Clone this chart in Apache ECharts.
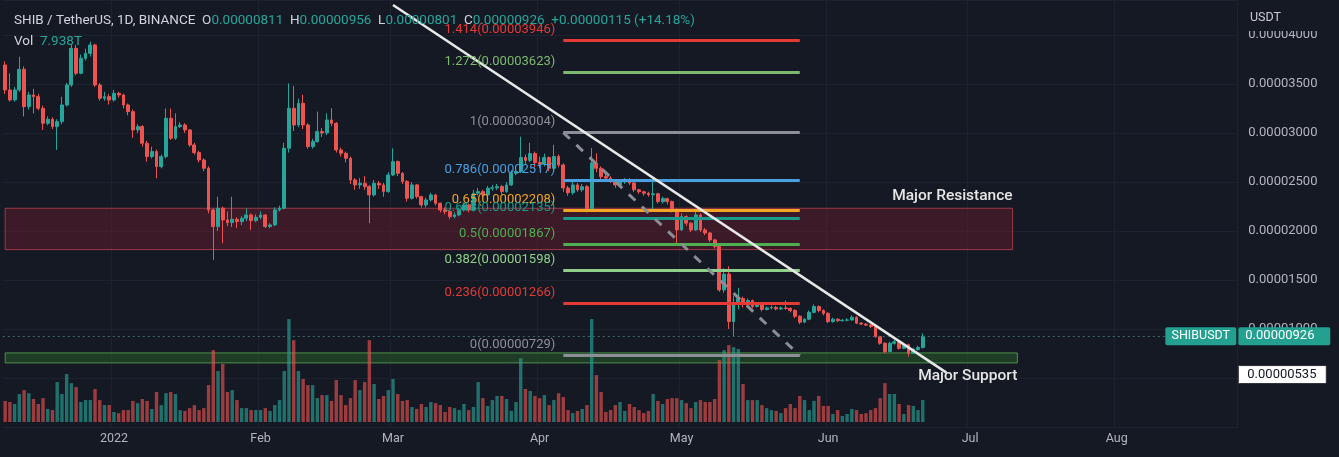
<!DOCTYPE html>
<html><head><meta charset="utf-8">
<script src="https://cdn.jsdelivr.net/npm/echarts@6/dist/echarts.min.js"></script>
<style>html,body{margin:0;padding:0;background:#151924;}#c{width:1339px;height:457px;}</style>
</head><body><div id="c"></div>
<script>
// ---- DATA (prices in units of 1e-8 USDT, volume in T) ----
const startDate = '2021-12-09';
const totalDays = 261; // Dec 9 2021 .. Aug 26 2022 (axis extent)
const open = [3694,3439,3337,3439,3650,3269,3388,3371,3252,3099,3140,3065,3116,3286,3490,3864,3609,3762,3813,3898,3490,3354,3371,3337,3405,3388,3286,3218,3031,3065,2895,2759,2810,2657,2759,3150,2946,3065,3082,3031,2878,2800,2725,2640,2215,2045,2232,2113,2086,2120,2096,2130,2164,2106,2140,2164,2045,2062,2215,2232,2844,3252,3082,3303,3082,2861,2912,3014,3000,3133,3099,2827,2793,2742,2521,2470,2487,2453,2368,2487,2470,2402,2572,2708,2589,2504,2334,2470,2351,2266,2317,2368,2283,2215,2198,2147,2164,2215,2266,2215,2385,2402,2368,2436,2440,2453,2402,2470,2589,2606,2750,2720,2790,2700,2680,2750,2640,2760,2674,2439,2390,2470,2420,2452,2215,2694,2640,2555,2540,2520,2470,2500,2520,2490,2420,2400,2385,2370,2380,2300,2330,2300,2215,2011,2147,2080,2011,2164,2011,1980,1909,1841,1399,1560,1076,1263,1310,1250,1290,1230,1250,1200,1215,1220,1205,1215,1210,1190,1130,1070,1100,1170,1230,1190,1160,1076,1100,1085,1090,1092,1120,1060,1050,1040,1025,922,855,770,854,870,803,840,752,790,811];
const close = [3439,3337,3439,3650,3269,3388,3371,3252,3099,3140,3065,3116,3286,3490,3864,3609,3762,3813,3898,3490,3354,3371,3337,3405,3388,3286,3218,3031,3065,2895,2759,2810,2657,2759,3150,2946,3065,3082,3031,2878,2800,2725,2640,2215,2045,2232,2113,2086,2120,2096,2130,2164,2106,2140,2164,2045,2062,2215,2232,2844,3252,3082,3303,3082,2861,2912,3014,3000,3133,3099,2827,2793,2742,2521,2470,2487,2453,2368,2487,2470,2402,2572,2708,2589,2504,2334,2470,2351,2266,2317,2368,2283,2215,2198,2147,2164,2215,2266,2215,2385,2402,2368,2436,2440,2453,2402,2470,2589,2606,2750,2720,2790,2700,2680,2750,2640,2760,2674,2439,2390,2470,2420,2452,2215,2694,2640,2555,2540,2520,2470,2500,2520,2490,2420,2400,2385,2370,2380,2300,2330,2300,2215,2011,2147,2080,2011,2164,2011,1980,1909,1841,1399,1560,1076,1263,1310,1250,1290,1230,1250,1200,1215,1220,1205,1215,1210,1190,1130,1070,1100,1170,1230,1190,1160,1076,1100,1085,1090,1092,1120,1060,1050,1040,1025,922,855,770,854,870,803,840,752,790,811,926];
const high = [3730,3609,3470,3779,3680,3420,3450,3400,3280,3170,3160,3140,3370,3510,3900,3900,3800,3860,3932,3910,3510,3420,3400,3440,3420,3400,3300,3240,3090,3080,2920,2860,2830,2780,3250,3250,3200,3110,3100,3040,2900,2820,2740,2660,2230,2351,2250,2200,2350,2140,2150,2230,2180,2170,2200,2170,2080,2240,2260,2900,3506,3480,3350,3390,3100,2940,3218,3050,3200,3252,3110,2850,2810,2760,2540,2540,2560,2470,2520,2510,2490,2600,2843,2720,2600,2520,2500,2480,2360,2340,2390,2380,2290,2240,2210,2190,2240,2290,2280,2420,2440,2420,2460,2470,2480,2470,2500,2620,2640,2962,2780,2900,2810,2760,2790,2760,2880,2780,2690,2460,2500,2490,2480,2470,2847,2793,2660,2580,2560,2530,2530,2540,2540,2500,2430,2410,2400,2520,2390,2350,2340,2310,2230,2180,2160,2090,2215,2180,2030,1990,1920,1860,1620,1640,1340,1420,1330,1310,1300,1270,1260,1230,1240,1235,1230,1290,1220,1200,1140,1110,1190,1250,1240,1200,1170,1115,1110,1100,1110,1140,1130,1070,1060,1050,1035,930,865,870,890,880,860,850,810,830,956];
const low = [3400,3320,3320,3420,3170,3240,3200,3230,3031,3080,3040,2827,3090,3270,3470,3590,3600,3740,3780,3470,3330,3330,3290,3320,3360,3250,3180,2950,3000,2860,2708,2740,2538,2640,2740,2930,2930,3050,3000,2860,2780,2700,2610,2180,1705,2000,1875,2050,2040,2030,2060,2100,2011,2090,2120,2030,2030,2050,2200,2220,2800,3020,3060,3040,2840,2840,2900,2960,2980,3070,2800,2760,2700,2480,2420,2430,2420,2079,2350,2430,2350,2390,2560,2560,2480,2300,2320,2330,2240,2240,2300,2260,2190,2170,2120,2130,2150,2200,2190,2200,2360,2340,2350,2410,2420,2380,2390,2460,2570,2590,2680,2700,2650,2640,2660,2610,2620,2650,2400,2360,2370,2400,2400,2190,2200,2600,2530,2510,2490,2440,2460,2480,2470,2400,2380,2360,2350,2215,2280,2280,2270,2190,1875,2000,2050,1990,2000,1990,1960,1890,1820,1380,1370,1000,920,1200,1220,1230,1210,1220,1180,1190,1200,1190,1195,1195,1170,1110,1050,1060,1090,1160,1170,1140,1060,1065,1070,1075,1080,1085,1050,1040,1030,1010,910,840,752,765,840,790,795,720,745,780,801];
const volume = [7.6,7.2,6.5,10.1,11.5,10.4,8.3,6.5,8.6,4.7,4.3,14.4,10.1,17.3,14.0,12.6,7.2,7.9,7.9,11.9,7.9,6.1,6.1,3.6,3.2,4.3,4.3,7.6,6.8,8.3,7.6,4.7,10.8,6.1,10.4,10.8,10.1,4.3,4.0,5.0,6.1,4.3,5.0,13.3,25.9,18.4,20.9,10.8,11.5,7.9,5.0,5.0,4.3,4.3,4.3,5.0,4.0,6.1,7.9,18.4,37.1,29.5,18.4,15.5,13.3,13.3,8.6,9.7,9.7,7.6,15.1,9.7,6.1,8.6,15.1,11.5,14.4,29.5,13.7,8.3,9.4,11.5,15.5,10.1,7.6,7.9,5.4,4.7,6.5,5.4,7.2,6.8,6.1,3.6,5.4,5.0,4.3,6.5,4.3,5.4,14.4,8.6,5.8,7.9,9.4,9.4,8.3,4.0,7.2,23.0,11.9,11.2,9.4,8.6,9.7,6.1,7.9,10.4,9.0,4.3,3.2,4.0,4.7,6.1,37.1,16.9,10.8,3.6,4.3,6.1,7.2,4.0,6.5,5.4,4.3,3.2,4.0,10.1,7.6,6.5,8.3,8.6,8.6,7.9,6.8,5.0,7.2,7.9,7.2,7.2,8.3,22.3,25.9,27.7,27.0,26.3,13.7,7.9,7.9,7.9,6.1,5.0,4.3,4.0,3.2,5.0,6.5,5.0,9.4,7.9,4.3,7.6,9.4,5.8,5.8,2.9,4.3,2.2,2.9,4.7,4.3,2.9,3.2,4.3,5.0,8.6,14.0,10.1,10.1,6.5,2.9,6.1,5.8,4.3,7.938];
const monthTickDates = ['2022-01-01','2022-02-01','2022-03-01','2022-04-01','2022-05-01','2022-06-01','2022-07-01','2022-08-01'];
const monthTickLabels = ['2022','Feb','Mar','Apr','May','Jun','Jul','Aug'];
const fibRatios = ['1.414','1.272','1','0.786','0.65','0.618','0.5','0.382','0.236','0'];
const fibPrices = [3946,3623,3004,2517,2208,2135,1867,1598,1266,729];
const fibStart = '2022-04-06', fibEnd = '2022-05-26';
const trendLine = [['2022-03-01',4306],['2022-06-26',555]];
const fibDiagonal = [['2022-04-06',3004],['2022-05-26',729]];
const resistanceZone = [['2021-12-09',2232],['2022-07-10',1810]];
const supportZone = [['2021-12-09',756],['2022-07-11',654]];
const lastPrice = 926, markerPrice = 535;
const header = {symbol:'SHIB / TetherUS, 1D, BINANCE', o:'0.00000811', h:'0.00000956', l:'0.00000801', c:'0.00000926', chg:'+0.00000115 (+14.18%)', vol:'7.938T'};

// ---- STYLE ----
const fibColors = ['#e53935','#7cb86e','#8d8f96','#4a9fe0','#f5a524','#199c8c','#4caf50','#8fcf8a','#e53935','#8d8f96'];
const UP='#26a69a', DOWN='#ef5350', FONT='Roboto, "Noto Sans", sans-serif';

const dates=[]; const t0=Date.parse(startDate+'T00:00:00Z');
for(let i=0;i<totalDays;i++){dates.push(new Date(t0+i*86400000).toISOString().slice(0,10));}
const fmt=v=>(v/1e8).toFixed(8);
const candleData=open.map((o,i)=>[o,close[i],low[i],high[i]]);
const volData=volume.map((v,i)=>({value:v,itemStyle:{color: close[i]>=open[i]?'rgba(38,166,154,0.62)':'rgba(239,83,80,0.62)'}}));
const isMonth=(idx,val)=>monthTickDates.indexOf(val)>=0;

const fibLines=fibPrices.map((p,k)=>[{coord:[fibStart,p],lineStyle:{color:fibColors[k],width:3,type:'solid'}},{coord:[fibEnd,p]}]);

const chart=echarts.init(document.getElementById('c'),null,{renderer:'canvas'});
const GL=2.8, GW=1234.5;
chart.setOption({
  animation:false, backgroundColor:'#151924',
  grid:[{left:GL,top:0,width:GW,height:427},{left:GL,top:298,width:GW,height:124}],
  xAxis:[
    {type:'category',gridIndex:0,data:dates,boundaryGap:true,axisLine:{show:false},axisTick:{show:false},axisLabel:{show:false},
     splitLine:{show:true,interval:isMonth,lineStyle:{color:'#1d2130',width:1}}},
    {type:'category',gridIndex:1,data:dates,boundaryGap:true,axisLine:{show:false},axisTick:{show:false},
     axisLabel:{interval:isMonth,margin:10,color:'#b2b5be',fontSize:12.5,fontFamily:FONT,formatter:v=>monthTickLabels[monthTickDates.indexOf(v)]||''},splitLine:{show:false}}
  ],
  yAxis:[
    {type:'value',gridIndex:0,position:'right',min:0,max:4357,interval:500,axisLine:{show:false},axisTick:{show:false},
     axisLabel:{showMaxLabel:false,margin:11,color:'#b2b5be',fontSize:13,fontFamily:FONT,formatter:v=>v<1000?'':fmt(v)},
     splitLine:{lineStyle:{color:'#1d2130'}}},
    {type:'value',gridIndex:1,min:0,max:44.7,show:false,splitLine:{show:false}}
  ],
  series:[
    {type:'bar',xAxisIndex:1,yAxisIndex:1,data:volData,barWidth:'72%',z:1},
    {type:'candlestick',xAxisIndex:0,yAxisIndex:0,data:candleData,barWidth:'70%',z:3,
     itemStyle:{color:UP,color0:DOWN,borderColor:UP,borderColor0:DOWN,borderWidth:1},
     markArea:{silent:true,data:[
       [{coord:resistanceZone[0],itemStyle:{color:'rgba(110,28,45,0.45)',borderColor:'#9c3a46',borderWidth:1}},{coord:resistanceZone[1]}],
       [{coord:supportZone[0],itemStyle:{color:'rgba(40,95,40,0.5)',borderColor:'#4c8f4a',borderWidth:1}},{coord:supportZone[1]}]
     ]},
     markLine:{silent:true,symbol:['none','none'],label:{show:false},animation:false,data:[
       {yAxis:lastPrice,lineStyle:{color:'#3f6a6a',type:[2,3],width:1}},
       ...fibLines,
       [{coord:fibDiagonal[0],lineStyle:{color:'#8a8d94',type:[9,9],width:3}},{coord:fibDiagonal[1]}],
       [{coord:trendLine[0],lineStyle:{color:'#e8e8e8',type:'solid',width:2.5}},{coord:trendLine[1]}]
     ]}}
  ]
});

const px=(d,v)=>chart.convertToPixel({xAxisIndex:0,yAxisIndex:0},[d,v]);
const g=[];
fibPrices.forEach((p,k)=>{const q=px(fibStart,p);
  g.push({type:'text',z:50,style:{text:fibRatios[k]+'('+fmt(p)+')',x:q[0]-8,y:q[1]-4,textAlign:'right',textVerticalAlign:'bottom',fill:fibColors[k],font:'13px '+FONT}});});
const r1=px(resistanceZone[1][0],resistanceZone[0][1]);
g.push({type:'text',z:50,style:{text:'Major Resistance',x:r1[0],y:r1[1]-4,textAlign:'right',textVerticalAlign:'bottom',fill:'#e6e6e6',font:'500 15.5px '+FONT}});
const s1=px(supportZone[1][0],supportZone[1][1]);
g.push({type:'text',z:50,style:{text:'Major Support',x:s1[0],y:s1[1]+5,textAlign:'right',textVerticalAlign:'top',fill:'#e6e6e6',font:'500 15.5px '+FONT}});
const yl=px(dates[0],lastPrice)[1], ym=px(dates[0],markerPrice)[1];
const AX=GL+GW;
g.push({type:'rect',z:40,shape:{x:AX+1,y:0,width:1339-AX,height:31},style:{fill:'#151924'}});
g.push({type:'text',z:41,style:{text:'USDT',x:1250,y:18,textVerticalAlign:'middle',fill:'#c8cad0',font:'12.5px '+FONT}});
g.push({type:'rect',z:42,shape:{x:AX-72,y:yl-9,width:71,height:18,r:2},style:{fill:'#23a08f'}});
g.push({type:'text',z:43,style:{text:'SHIBUSDT',x:AX-36.5,y:yl,textAlign:'center',textVerticalAlign:'middle',fill:'#ffffff',font:'12.5px '+FONT}});
g.push({type:'rect',z:42,shape:{x:AX+1,y:yl-9,width:92,height:18,r:2},style:{fill:'#23a08f'}});
g.push({type:'text',z:43,style:{text:fmt(lastPrice),x:AX+8,y:yl,textVerticalAlign:'middle',fill:'#ffffff',font:'13px '+FONT}});
g.push({type:'rect',z:42,shape:{x:AX+1,y:ym-9,width:88,height:18,r:1},style:{fill:'#ffffff',stroke:'#2a2e39'}});
g.push({type:'text',z:43,style:{text:fmt(markerPrice),x:AX+10,y:ym,textVerticalAlign:'middle',fill:'#131722',font:'13px '+FONT}});
g.push({type:'text',z:45,style:{x:14,y:21,textVerticalAlign:'middle',font:'13.5px '+FONT,
  text:'{t|'+header.symbol+'}  {t|O}{v|'+header.o+'}  {t|H}{v|'+header.h+'}  {t|L}{v|'+header.l+'}  {t|C}{v|'+header.c+'}  {v|'+header.chg+'}',
  rich:{t:{fill:'#d1d4dc',font:'13.5px '+FONT},v:{fill:'#26a69a',font:'13.5px '+FONT}}}});
g.push({type:'text',z:45,style:{x:14,y:42,textVerticalAlign:'middle',font:'13.5px '+FONT,
  text:'{t|Vol}  {v|'+header.vol+'}',rich:{t:{fill:'#d1d4dc',font:'13.5px '+FONT},v:{fill:'#26a69a',font:'13.5px '+FONT}}}});
chart.setOption({graphic:g});
</script></body></html>
